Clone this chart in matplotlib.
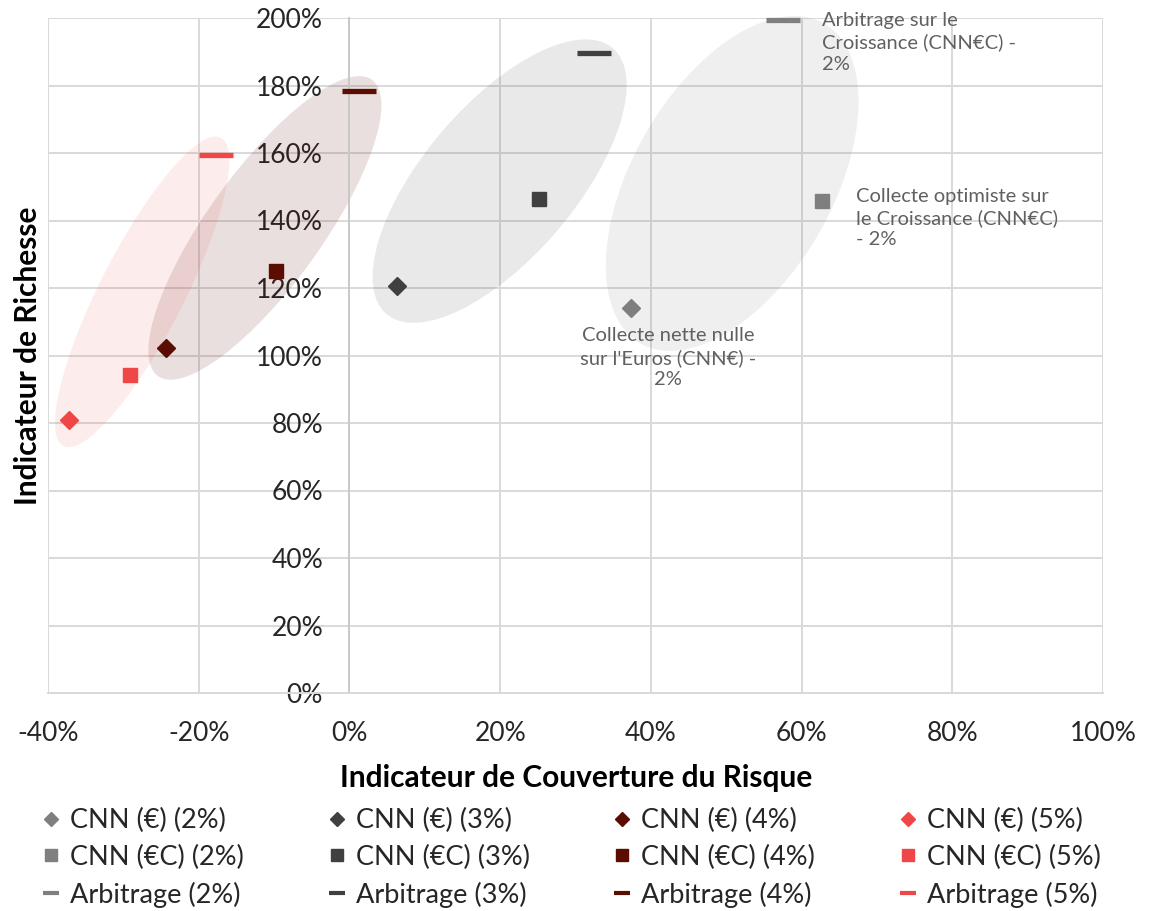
import numpy as np
import matplotlib
matplotlib.use("Agg")
import matplotlib.pyplot as plt
from matplotlib.patches import Ellipse
from matplotlib.transforms import IdentityTransform
from matplotlib.lines import Line2D
from matplotlib.ticker import FuncFormatter, FixedLocator

# ---- data -------------------------------------------------------------
rates = ["2%", "3%", "4%", "5%"]

# Collecte nette nulle sur l'Euros
cnn_euro_x = [37.4, 6.3, -24.3, -37.2]
cnn_euro_y = [114.2, 120.5, 102.1, 81.0]

# Collecte optimiste sur le Croissance
cnn_ec_x = [62.7, 25.2, -9.7, -29.1]
cnn_ec_y = [145.7, 146.3, 124.9, 94.1]

# Arbitrage sur le Croissance
arb_x = [57.5, 32.4, 1.3, -17.7]
arb_y = [199.4, 189.6, 178.3, 159.3]

series_names = ["CNN (€)", "CNN (€C)", "Arbitrage"]
labels_2pct = [
    "Collecte nette nulle\nsur l'Euros (CNN€) -\n2%",
    "Collecte optimiste sur\nle Croissance (CNN€C)\n- 2%",
    "Arbitrage sur le\nCroissance (CNN€C) -\n2%",
]

x_ticks = [-40, -20, 0, 20, 40, 60, 80, 100]
y_ticks = [0, 20, 40, 60, 80, 100, 120, 140, 160, 180, 200]

x_title = "Indicateur de Couverture du Risque"
y_title = "Indicateur de Richesse"

# ---- style ------------------------------------------------------------
colors = ["#7f7f7f", "#404040", "#5c0d02", "#ef4747"]
halo_alpha = [0.12, 0.115, 0.13, 0.10]
halo_minor_px = [100, 76, 57, 42]   # half-width of each highlight ellipse
halo_pad_px = 22
halo_shift_px = (-9, 0)
grid_color = "#d9d9d9"
text_color = "#262626"
label_color = "#606060"

plt.rcParams["font.family"] = ["Lato", "DejaVu Sans"]

W, H = 1152, 911
fig = plt.figure(figsize=(W / 100, H / 100), dpi=100)
ax = fig.add_axes([48 / W, 1 - 693 / H, 1055 / W, 675 / H])
ax.set_xlim(-40, 100)
ax.set_ylim(0, 200)

# grid and axes
ax.xaxis.set_major_locator(FixedLocator(x_ticks))
ax.yaxis.set_major_locator(FixedLocator(y_ticks))
pct = FuncFormatter(lambda v, _: f"{v:.0f}%")
ax.xaxis.set_major_formatter(pct)
ax.yaxis.set_major_formatter(pct)
ax.grid(True, color=grid_color, lw=1.4, zorder=0)
ax.set_axisbelow(True)
for s in ["top", "right"]:
    ax.spines[s].set_visible(False)
ax.spines["left"].set_position(("data", 0))
ax.spines["left"].set_color("#c9c9c9")
ax.spines["left"].set_linewidth(1.4)
ax.spines["bottom"].set_color(grid_color)
ax.spines["bottom"].set_linewidth(1.4)
ax.tick_params(axis="both", length=0, labelsize=19, labelcolor=text_color)
ax.tick_params(axis="x", pad=20)
ax.tick_params(axis="y", pad=19)

# highlight ellipses around each rate group (computed in pixel space)
for i in range(len(rates)):
    pts = np.array([[cnn_euro_x[i], cnn_euro_y[i]],
                    [cnn_ec_x[i], cnn_ec_y[i]],
                    [arb_x[i], arb_y[i]]])
    px = ax.transData.transform(pts)
    c = px.mean(axis=0)
    d = px - c
    cov = d.T @ d / len(d)
    w, v = np.linalg.eigh(cov)
    u = v[:, np.argmax(w)]
    if u[0] < 0:
        u = -u
    pu = d @ u
    center = c + u * (pu.max() + pu.min()) / 2 + np.array(halo_shift_px)
    half = (pu.max() - pu.min()) / 2 + halo_pad_px
    angle = np.degrees(np.arctan2(u[1], u[0]))
    ax.add_patch(Ellipse(center, 2 * half, 2 * halo_minor_px[i], angle=angle,
                         transform=IdentityTransform(), facecolor=colors[i],
                         alpha=halo_alpha[i], edgecolor="none", zorder=1,
                         clip_on=False))

# markers
diamond_ms, square_ms, dash_ms = 8.8, 10.5, 24
for i in range(len(rates)):
    ax.plot(cnn_euro_x[i], cnn_euro_y[i], ls="none", marker="D", ms=diamond_ms,
            color=colors[i], mec=colors[i], zorder=3, clip_on=False)
    ax.plot(cnn_ec_x[i], cnn_ec_y[i], ls="none", marker="s", ms=square_ms,
            color=colors[i], mec=colors[i], zorder=3, clip_on=False)
    ax.plot(arb_x[i], arb_y[i], ls="none", marker="_", ms=dash_ms, mew=3.8,
            color=colors[i], zorder=3, clip_on=False)

# data labels on the 2% series
lab_kw = dict(textcoords="offset points", fontsize=14.5, color=label_color,
              linespacing=1.3, zorder=4, annotation_clip=False)
ax.annotate(labels_2pct[0], (cnn_euro_x[0], cnn_euro_y[0]), xytext=(26.5, -36),
            ha="center", va="center", multialignment="center", **lab_kw)
ax.annotate(labels_2pct[1], (cnn_ec_x[0], cnn_ec_y[0]), xytext=(24.5, -12),
            ha="left", va="center", multialignment="left", **lab_kw)
ax.annotate(labels_2pct[2], (arb_x[0], arb_y[0]), xytext=(28, -16),
            ha="left", va="center", multialignment="left", **lab_kw)

# axis titles
fig.text(576 / W, 1 - 778 / H, x_title, ha="center", va="center",
         fontsize=21.5, fontweight="bold", color="black")
fig.text(28 / W, 1 - 356 / H, y_title, ha="center", va="center", rotation=90,
         fontsize=21.5, fontweight="bold", color="black")

# legend, filled column by column (one column per rate)
handles, names = [], []
for i, r in enumerate(rates):
    handles.append(Line2D([], [], ls="none", marker="D", ms=7, color=colors[i]))
    names.append(f"{series_names[0]} ({r})")
    handles.append(Line2D([], [], ls="none", marker="s", ms=8, color=colors[i]))
    names.append(f"{series_names[1]} ({r})")
    handles.append(Line2D([], [], ls="none", marker="_", ms=12, mew=3,
                          color=colors[i]))
    names.append(f"{series_names[2]} ({r})")
fig.legend(handles, names, ncol=4, loc="upper left",
           bbox_to_anchor=(40 / W, 1 - 808 / H), frameon=False,
           fontsize=19.5, handlelength=0.8, handletextpad=0.3,
           columnspacing=3.03, labelspacing=0.43, labelcolor=text_color,
           borderpad=0, borderaxespad=0)

fig.savefig("out.png", dpi=100)
